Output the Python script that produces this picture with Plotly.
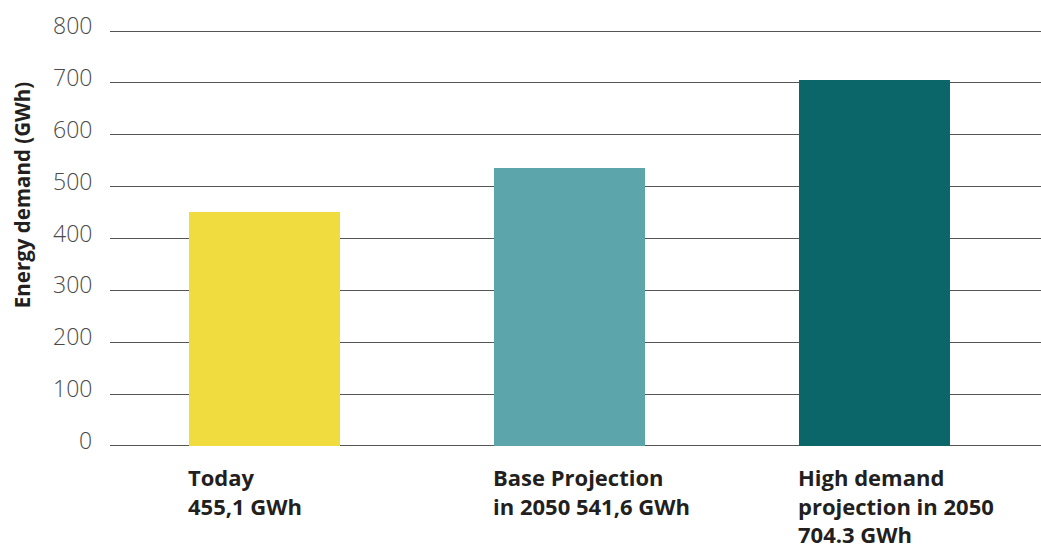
import plotly.graph_objects as go

categories = ["Today", "Base Projection", "High demand projection"]
values = [452, 535, 706]
colors = ["#F0DC3F", "#5CA5AA", "#0B666A"]
cat_labels = [
    "Today<br>455,1 GWh",
    "Base Projection<br>in 2050 541,6 GWh",
    "High demand<br>projection in 2050<br>704.3 GWh",
]
tick_vals = [0, 100, 200, 300, 400, 500, 600, 700, 800]
tick_text = [str(v) for v in tick_vals]

BAR_W = 0.495
FONT = "Open Sans"

fig = go.Figure()
fig.add_trace(go.Bar(
    x=list(range(len(categories))),
    y=values,
    marker=dict(color=colors, line=dict(width=0)),
    width=BAR_W,
    hoverinfo="skip",
))

annotations = []
for v, t in zip(tick_vals, tick_text):
    annotations.append(dict(
        x=0, xref="paper", xanchor="right", xshift=-16,
        y=v, yref="y", yanchor="middle", yshift=6,
        text=t, showarrow=False,
        font=dict(family=FONT, size=23, color="#4a4a4a", weight=300),
    ))

for i, lab in enumerate(cat_labels):
    annotations.append(dict(
        x=i - BAR_W / 2, xref="x", xanchor="left", xshift=-3,
        y=0, yref="paper", yanchor="top", yshift=-13,
        text="<b>" + lab + "</b>", align="left", showarrow=False,
        font=dict(family=FONT, size=22, color="#231f20"),
    ))

annotations.append(dict(
    x=0, xref="paper", xanchor="center", xshift=-88,
    y=0.604, yref="paper", yanchor="middle",
    text="<b>Energy demand (GWh)</b>", textangle=-90, showarrow=False,
    font=dict(family=FONT, size=20.5, color="#231f20"),
))

fig.update_layout(
    width=1041, height=544,
    margin=dict(l=110, r=0, t=30, b=97),
    paper_bgcolor="white", plot_bgcolor="white",
    showlegend=False,
    bargap=0,
    annotations=annotations,
    xaxis=dict(range=[-0.507, 2.546], showticklabels=False, showgrid=False,
               zeroline=False, showline=False, ticks=""),
    yaxis=dict(range=[-2, 802], tickvals=tick_vals, showticklabels=False,
               showgrid=True, gridcolor="#555555", gridwidth=1,
               zeroline=True, zerolinecolor="#555555", zerolinewidth=1,
               showline=False, ticks=""),
)

fig.write_html("out.html")
